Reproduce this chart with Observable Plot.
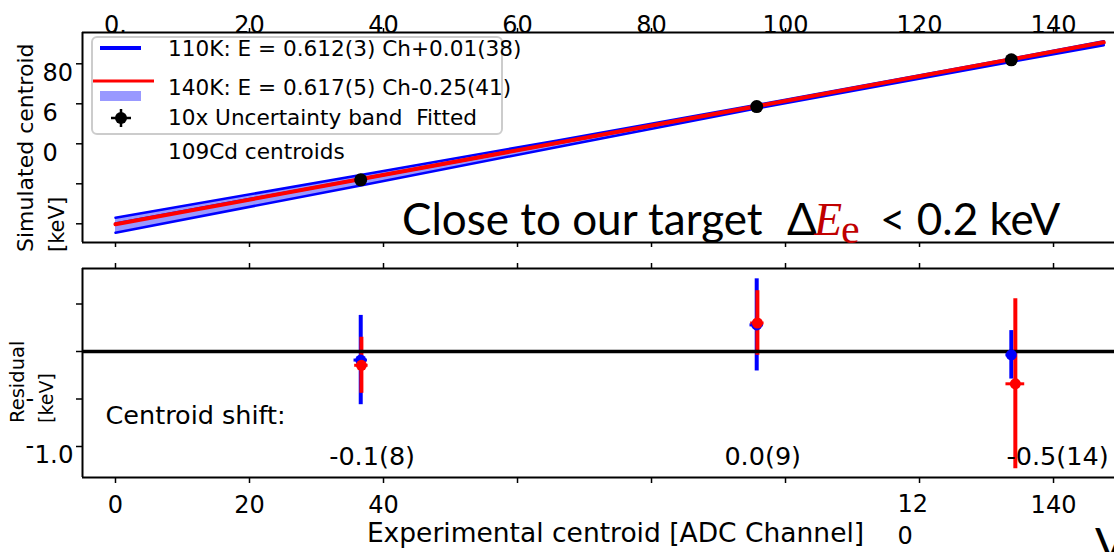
<!DOCTYPE html>
<html><head><meta charset="utf-8">
<script src="https://cdn.jsdelivr.net/npm/d3@7"></script>
<script src="https://cdn.jsdelivr.net/npm/@observablehq/plot@0.6"></script>
<style>
html,body{margin:0;padding:0;background:#fff;}
#wrap{position:relative;width:1114px;height:552px;overflow:hidden;font-family:"DejaVu Sans",sans-serif;}
#top{position:absolute;left:0;top:0;}
#bot{position:absolute;left:0;top:255px;}
#ov{position:absolute;left:0;top:0;pointer-events:none;}
svg{overflow:visible;}
</style></head><body>
<div id="wrap"><div id="top"></div><div id="bot"></div><svg id="ov" width="1114" height="552"></svg></div>
<script>
// ---- data ----
const fitCh = [0, 147.5];
const fit110 = [0.01, 90.28];
const fit140 = [-0.25, 90.76];
const bandCh = [0, 36.6, 66, 96, 134, 147.5];
const bandHi = [3.0, 24.4, 41.7, 59.6, 82.8, 91.3];
const bandLo = [-4.5, 19.2, 38.4, 57.9, 81.2, 89.3];
const cdCh = [36.6, 95.7, 133.7];
const cdE = [22.0, 58.6, 82.0];
const res110Ch = [36.6, 95.7, 133.7];
const res110 = [-0.09, 0.28, -0.035];
const res110Err = [0.47, 0.485, 0.255];
const res110ChErr = [1.0, 1.0, 0.8];
const res140Ch = [36.7, 95.8, 134.3];
const res140 = [-0.145, 0.30, -0.34];
const res140Err = [0.295, 0.34, 0.895];
const res140ChErr = [1.0, 1.0, 1.4];
const shiftCh = [38.3, 96.6, 140.6];
const shiftVal = [-1.105, -1.105, -1.105];
const shiftText = ["-0.1(8)", "0.0(9)", "-0.5(14)"];
const xTickVals = [0, 20, 40, 60, 80, 100, 120, 140];
const topXTickLabels = ["0.", "20", "40", "60", "80", "100", "120", "140"];
const botXTickLabels = ["0", "20", "40", "", "", "", "12\n0", "140"];
const topYTickVals = [0, 20, 40, 60, 80];
const topYTickLabels = ["", "", "0", "6", "80"];
const botYTickVals = [0.5, 0, -0.5, -1.0];
const botYTickLabels = ["", "", "", "1.0"];
const botYFragVals = [-0.5, -1.0];
const legendLabels = ["110K: E = 0.612(3) Ch+0.01(38)", "140K: E = 0.617(5) Ch-0.25(41)", "10x Uncertainty band  Fitted", "109Cd centroids"];
const topYTitle = ["Simulated centroid", "[keV]"];
const botYTitle = ["Residual", "[keV]"];
const xTitle = "Experimental centroid [ADC Channel]";
const shiftTitle = "Centroid shift:";

// ---- tables ----
const band = bandCh.map((c, i) => ({ch: c, hi: bandHi[i], lo: bandLo[i]}));
const f110 = fitCh.map((c, i) => ({ch: c, e: fit110[i]}));
const f140 = fitCh.map((c, i) => ({ch: c, e: fit140[i]}));
const cd = cdCh.map((c, i) => ({ch: c, e: cdE[i]}));
const r110 = res110Ch.map((c, i) => ({ch: c, v: res110[i], e: res110Err[i], ce: res110ChErr[i]}));
const r140 = res140Ch.map((c, i) => ({ch: c, v: res140[i], e: res140Err[i], ce: res140ChErr[i]}));
const shifts = shiftCh.map((c, i) => ({ch: c, v: shiftVal[i], t: shiftText[i]}));
const botSingle = xTickVals.filter((d, i) => !botXTickLabels[i].includes("\n"));
const botMulti = xTickVals.filter((d, i) => botXTickLabels[i].includes("\n"));

const BLUE = "#0000ff", RED = "#ff0000";
const xDom = [-4.925, 149.1];
const yTop = [-9.35, 95.65];
const yBot = [-1.3263, 0.8737];
const FF = "DejaVu Sans";

const topPlot = Plot.plot({
  width: 1114, height: 255,
  marginLeft: 82, marginRight: 0, marginTop: 32, marginBottom: 13,
  x: {domain: xDom}, y: {domain: yTop},
  style: {fontFamily: FF, color: "black", background: "transparent", overflow: "visible"},
  marks: [
    Plot.areaY(band, {x: "ch", y1: "lo", y2: "hi", fill: "#9999ff"}),
    Plot.line(band, {x: "ch", y: "hi", stroke: BLUE, strokeWidth: 2.5}),
    Plot.line(band, {x: "ch", y: "lo", stroke: BLUE, strokeWidth: 2.5}),
    Plot.line(f110, {x: "ch", y: "e", stroke: BLUE, strokeWidth: 3}),
    Plot.line(f140, {x: "ch", y: "e", stroke: RED, strokeWidth: 4}),
    Plot.dot(cd, {x: "ch", y: "e", r: 6.5, fill: "black"}),
    Plot.ruleX([xDom[0]], {stroke: "black", strokeWidth: 2}),
    Plot.ruleY(yTop, {stroke: "black", strokeWidth: 2}),
    Plot.axisX({anchor: "top", ticks: xTickVals, tickSize: 5, tickFormat: () => "", label: null, strokeWidth: 1.5}),
    Plot.axisX({anchor: "bottom", ticks: xTickVals, tickSize: 5, tickFormat: () => "", label: null, strokeWidth: 1.5}),
    Plot.axisY({anchor: "left", ticks: topYTickVals, tickSize: 6, tickFormat: () => "", label: null, strokeWidth: 1.5}),
    Plot.text(xTickVals, {x: d => d, frameAnchor: "top", text: (d, i) => topXTickLabels[i], dy: -17, fontSize: 24}),
    Plot.text(topYTickVals, {y: d => d, frameAnchor: "left", text: (d, i) => topYTickLabels[i], textAnchor: "start", dx: -40, dy: 10, fontSize: 24})
  ]
});
document.getElementById("top").append(topPlot);

const botPlot = Plot.plot({
  width: 1114, height: 297,
  marginLeft: 82, marginRight: 0, marginTop: 13, marginBottom: 75,
  x: {domain: xDom}, y: {domain: yBot},
  style: {fontFamily: FF, color: "black", background: "transparent", overflow: "visible"},
  marks: [
    Plot.ruleX(r110, {x: "ch", y1: d => d.v - d.e, y2: d => d.v + d.e, stroke: BLUE, strokeWidth: 4}),
    Plot.ruleY(r110, {y: "v", x1: d => d.ch - d.ce, x2: d => d.ch + d.ce, stroke: BLUE, strokeWidth: 3}),
    Plot.ruleX(r140, {x: "ch", y1: d => d.v - d.e, y2: d => d.v + d.e, stroke: RED, strokeWidth: 4}),
    Plot.ruleY(r140, {y: "v", x1: d => d.ch - d.ce, x2: d => d.ch + d.ce, stroke: RED, strokeWidth: 3}),
    Plot.ruleY([0], {stroke: "black", strokeWidth: 3.5}),
    Plot.dot(r110, {x: "ch", y: "v", r: 5.5, fill: BLUE}),
    Plot.dot(r140, {x: "ch", y: "v", r: 5.5, fill: RED}),
    Plot.ruleX([xDom[0]], {stroke: "black", strokeWidth: 2}),
    Plot.ruleY(yBot, {stroke: "black", strokeWidth: 2}),
    Plot.axisX({anchor: "top", ticks: xTickVals, tickSize: 6, tickFormat: () => "", label: null, strokeWidth: 1.5}),
    Plot.axisX({anchor: "bottom", ticks: xTickVals, tickSize: 6, tickFormat: () => "", label: null, strokeWidth: 1.5}),
    Plot.axisY({anchor: "left", ticks: botYTickVals, tickSize: 6, tickFormat: () => "", label: null, strokeWidth: 1.5}),
    Plot.text(botSingle, {x: d => d, frameAnchor: "bottom", text: d => botXTickLabels[xTickVals.indexOf(d)], lineAnchor: "top", dy: 18.7, fontSize: 24}),
    Plot.text(botMulti, {x: d => d, frameAnchor: "bottom", text: d => botXTickLabels[xTickVals.indexOf(d)], lineAnchor: "top", textAnchor: "start", dx: -22, dy: 12, fontSize: 24, lineHeight: 1.33}),
    Plot.text(botYTickVals, {y: d => d, frameAnchor: "left", text: (d, i) => botYTickLabels[i], textAnchor: "end", dx: -9, dy: 9, fontSize: 24.5}),
    Plot.text(botYFragVals, {y: d => d, frameAnchor: "left", text: () => "-", dx: -57, fontSize: 24}),
    Plot.text([shiftTitle], {frameAnchor: "left", y: () => -0.674, textAnchor: "start", dx: 23, fontSize: 25.5}),
    Plot.text(shifts, {x: "ch", y: "v", text: "t", fontSize: 25.5}),
    Plot.text([xTitle], {frameAnchor: "bottom", dx: 17, dy: 64, fontSize: 26.5})
  ]
});
document.getElementById("bot").append(botPlot);

// ---- overlay: rotated axis titles, legend and slide annotation ----
const ov = d3.select("#ov");
function vtitle(lines, xs, y0, sizes) {
  lines.forEach((t, i) => {
    ov.append("text").attr("transform", `translate(${xs[i]},${y0}) rotate(-90)`)
      .attr("dy", "0.35em").attr("font-family", FF).attr("font-size", sizes[i]).attr("fill", "black").text(t);
  });
}
vtitle(topYTitle, [25, 57], 252, [22, 21]);
vtitle(botYTitle, [17, 46], 423, [19.5, 19]);

const lg = ov.append("g");
lg.append("rect").attr("x", 92).attr("y", 37).attr("width", 410).attr("height", 97).attr("rx", 5)
  .attr("fill", "rgba(255,255,255,0.8)").attr("stroke", "#cccccc").attr("stroke-width", 2);
lg.append("line").attr("x1", 100).attr("x2", 141).attr("y1", 48).attr("y2", 48).attr("stroke", BLUE).attr("stroke-width", 4);
lg.append("line").attr("x1", 93).attr("x2", 154).attr("y1", 81).attr("y2", 81).attr("stroke", RED).attr("stroke-width", 3);
lg.append("rect").attr("x", 100).attr("y", 91).attr("width", 41).attr("height", 10).attr("fill", "#9999ff");
lg.append("line").attr("x1", 111).attr("x2", 131).attr("y1", 118).attr("y2", 118).attr("stroke", "black").attr("stroke-width", 2.5);
lg.append("line").attr("x1", 121).attr("x2", 121).attr("y1", 109).attr("y2", 127).attr("stroke", "black").attr("stroke-width", 2.5);
lg.append("circle").attr("cx", 121).attr("cy", 118).attr("r", 6).attr("fill", "black");
const legendY = [48, 87, 117, 151];
legendLabels.forEach((t, i) => {
  lg.append("text").attr("x", 168).attr("y", legendY[i] + 8).attr("font-family", FF).attr("font-size", 21.6)
    .attr("xml:space", "preserve").style("white-space", "pre").text(t);
});

const ann = ov.append("text").attr("x", 402).attr("y", 235).attr("font-family", "Lato").attr("font-size", 44).attr("fill", "black");
ann.append("tspan").text("Close to our target");
ann.append("tspan").attr("x", 787).text("Δ");
ann.append("tspan").attr("x", 814).attr("font-family", "Liberation Serif").attr("font-style", "italic").attr("font-size", 46).attr("fill", "#c00000").text("E");
ann.append("tspan").attr("x", 841).attr("dy", 8).attr("font-family", "Liberation Serif").attr("font-size", 42).attr("fill", "#c00000").text("e");
ann.append("tspan").attr("x", 880).attr("dy", -8).text("< 0.2 keV");
ov.append("text").attr("x", 1095).attr("y", 560).attr("font-family", "Lato").attr("font-size", 45).text("V");
</script>
</body></html>
